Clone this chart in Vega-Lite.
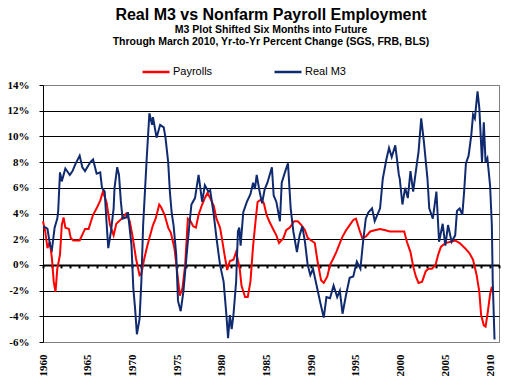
{
  "$schema": "https://vega.github.io/schema/vega-lite/v6.json",
  "width": 456,
  "height": 257,
  "autosize": {"type": "none"},
  "padding": {"left": 43, "top": 85, "right": 10, "bottom": 46},
  "background": "white",
  "config": {
    "view": {"stroke": "#808080", "strokeWidth": 1},
    "font": "Liberation Sans",
    "axis": {"labelOverlap": false},
    "axisY": {
      "title": null, "values": [-6,-4,-2,0,2,4,6,8,10,12,14],
      "labelExpr": "datum.value + '%'", "labelOverlap": false,
      "labelFont": "Liberation Serif", "labelFontSize": 11, "labelFontWeight": "bold", "labelColor": "black",
      "labelPadding": 10, "tickSize": 4, "tickColor": "black", "domainColor": "black",
      "grid": true, "gridOpacity": 1, "gridWidth": 1
    }
  },
  "title": {
    "text": "Real M3 vs Nonfarm Payroll Employment",
    "subtitle": ["M3 Plot Shifted Six Months into Future", "Through March 2010,  Yr-to-Yr  Percent Change (SGS, FRB, BLS)"],
    "anchor": "middle",
    "frame": "group",
    "font": "Liberation Sans",
    "fontSize": 16,
    "fontWeight": "bold",
    "color": "black",
    "subtitleFont": "Liberation Sans",
    "subtitleFontSize": 10.5,
    "subtitleFontWeight": "bold",
    "subtitleColor": "black",
    "subtitlePadding": 2,
    "subtitleLineHeight": 12,
    "offset": 10
  },
  "data": {"values": [
    {"s":"Payrolls","t":1960.0,"v":3.4},{"s":"Payrolls","t":1960.25,"v":2.6},{"s":"Payrolls","t":1960.5,"v":1.3},{"s":"Payrolls","t":1960.75,"v":1.8},{"s":"Payrolls","t":1961.0,"v":0.5},{"s":"Payrolls","t":1961.2,"v":-1.3},{"s":"Payrolls","t":1961.4,"v":-2.1},{"s":"Payrolls","t":1961.6,"v":-0.3},{"s":"Payrolls","t":1961.9,"v":0.8},{"s":"Payrolls","t":1962.1,"v":3.1},{"s":"Payrolls","t":1962.3,"v":3.7},{"s":"Payrolls","t":1962.5,"v":2.9},{"s":"Payrolls","t":1962.9,"v":2.8},{"s":"Payrolls","t":1963.1,"v":2.1},{"s":"Payrolls","t":1963.4,"v":1.9},{"s":"Payrolls","t":1964.1,"v":1.9},{"s":"Payrolls","t":1964.7,"v":2.8},{"s":"Payrolls","t":1965.1,"v":2.8},{"s":"Payrolls","t":1965.6,"v":3.9},{"s":"Payrolls","t":1966.0,"v":4.4},{"s":"Payrolls","t":1966.4,"v":5.0},{"s":"Payrolls","t":1966.7,"v":5.7},{"s":"Payrolls","t":1967.1,"v":4.9},{"s":"Payrolls","t":1967.5,"v":3.1},{"s":"Payrolls","t":1967.9,"v":2.3},{"s":"Payrolls","t":1968.2,"v":3.2},{"s":"Payrolls","t":1968.8,"v":3.6},{"s":"Payrolls","t":1969.3,"v":4.0},{"s":"Payrolls","t":1969.7,"v":3.4},{"s":"Payrolls","t":1970.0,"v":2.3},{"s":"Payrolls","t":1970.4,"v":0.5},{"s":"Payrolls","t":1970.8,"v":-0.8},{"s":"Payrolls","t":1971.0,"v":-0.7},{"s":"Payrolls","t":1971.3,"v":0.4},{"s":"Payrolls","t":1971.6,"v":1.3},{"s":"Payrolls","t":1971.9,"v":2.1},{"s":"Payrolls","t":1972.3,"v":3.1},{"s":"Payrolls","t":1972.6,"v":3.6},{"s":"Payrolls","t":1973.0,"v":4.7},{"s":"Payrolls","t":1973.2,"v":4.5},{"s":"Payrolls","t":1973.6,"v":3.9},{"s":"Payrolls","t":1974.0,"v":2.9},{"s":"Payrolls","t":1974.3,"v":2.5},{"s":"Payrolls","t":1974.7,"v":1.3},{"s":"Payrolls","t":1975.1,"v":-1.1},{"s":"Payrolls","t":1975.3,"v":-2.4},{"s":"Payrolls","t":1975.6,"v":-1.8},{"s":"Payrolls","t":1975.9,"v":0.0},{"s":"Payrolls","t":1976.2,"v":3.6},{"s":"Payrolls","t":1976.5,"v":3.4},{"s":"Payrolls","t":1976.8,"v":3.0},{"s":"Payrolls","t":1977.1,"v":2.9},{"s":"Payrolls","t":1977.4,"v":3.9},{"s":"Payrolls","t":1977.8,"v":4.7},{"s":"Payrolls","t":1978.1,"v":5.2},{"s":"Payrolls","t":1978.4,"v":5.6},{"s":"Payrolls","t":1978.7,"v":5.2},{"s":"Payrolls","t":1979.1,"v":4.6},{"s":"Payrolls","t":1979.4,"v":3.6},{"s":"Payrolls","t":1979.8,"v":2.9},{"s":"Payrolls","t":1980.0,"v":2.1},{"s":"Payrolls","t":1980.3,"v":0.8},{"s":"Payrolls","t":1980.6,"v":-0.4},{"s":"Payrolls","t":1980.9,"v":0.3},{"s":"Payrolls","t":1981.3,"v":0.4},{"s":"Payrolls","t":1981.6,"v":1.0},{"s":"Payrolls","t":1982.0,"v":-0.3},{"s":"Payrolls","t":1982.2,"v":-1.6},{"s":"Payrolls","t":1982.6,"v":-2.5},{"s":"Payrolls","t":1982.9,"v":-2.5},{"s":"Payrolls","t":1983.2,"v":-1.3},{"s":"Payrolls","t":1983.5,"v":1.5},{"s":"Payrolls","t":1983.8,"v":3.6},{"s":"Payrolls","t":1984.0,"v":4.9},{"s":"Payrolls","t":1984.4,"v":5.1},{"s":"Payrolls","t":1984.7,"v":4.8},{"s":"Payrolls","t":1985.0,"v":3.9},{"s":"Payrolls","t":1985.3,"v":3.4},{"s":"Payrolls","t":1985.8,"v":2.7},{"s":"Payrolls","t":1986.1,"v":2.3},{"s":"Payrolls","t":1986.4,"v":1.7},{"s":"Payrolls","t":1986.9,"v":2.1},{"s":"Payrolls","t":1987.2,"v":2.7},{"s":"Payrolls","t":1987.6,"v":2.9},{"s":"Payrolls","t":1988.1,"v":3.4},{"s":"Payrolls","t":1988.5,"v":3.4},{"s":"Payrolls","t":1988.9,"v":3.1},{"s":"Payrolls","t":1989.3,"v":2.7},{"s":"Payrolls","t":1989.6,"v":2.1},{"s":"Payrolls","t":1990.0,"v":1.9},{"s":"Payrolls","t":1990.4,"v":1.7},{"s":"Payrolls","t":1990.7,"v":0.3},{"s":"Payrolls","t":1991.1,"v":-1.2},{"s":"Payrolls","t":1991.4,"v":-1.4},{"s":"Payrolls","t":1991.8,"v":-0.9},{"s":"Payrolls","t":1992.1,"v":0.0},{"s":"Payrolls","t":1992.4,"v":0.4},{"s":"Payrolls","t":1992.8,"v":1.0},{"s":"Payrolls","t":1993.2,"v":1.7},{"s":"Payrolls","t":1993.5,"v":2.2},{"s":"Payrolls","t":1993.9,"v":2.7},{"s":"Payrolls","t":1994.3,"v":3.1},{"s":"Payrolls","t":1994.7,"v":3.5},{"s":"Payrolls","t":1995.0,"v":3.6},{"s":"Payrolls","t":1995.4,"v":2.7},{"s":"Payrolls","t":1995.7,"v":2.1},{"s":"Payrolls","t":1996.1,"v":2.2},{"s":"Payrolls","t":1996.6,"v":2.6},{"s":"Payrolls","t":1997.1,"v":2.7},{"s":"Payrolls","t":1997.7,"v":2.8},{"s":"Payrolls","t":1998.3,"v":2.7},{"s":"Payrolls","t":1998.8,"v":2.6},{"s":"Payrolls","t":1999.4,"v":2.6},{"s":"Payrolls","t":1999.9,"v":2.6},{"s":"Payrolls","t":2000.4,"v":2.6},{"s":"Payrolls","t":2000.7,"v":1.8},{"s":"Payrolls","t":2001.1,"v":1.0},{"s":"Payrolls","t":2001.4,"v":-0.1},{"s":"Payrolls","t":2001.7,"v":-0.9},{"s":"Payrolls","t":2002.0,"v":-1.4},{"s":"Payrolls","t":2002.4,"v":-1.3},{"s":"Payrolls","t":2002.8,"v":-0.5},{"s":"Payrolls","t":2003.1,"v":-0.3},{"s":"Payrolls","t":2003.5,"v":-0.3},{"s":"Payrolls","t":2003.9,"v":0.0},{"s":"Payrolls","t":2004.2,"v":0.8},{"s":"Payrolls","t":2004.5,"v":1.4},{"s":"Payrolls","t":2005.0,"v":1.7},{"s":"Payrolls","t":2005.6,"v":1.8},{"s":"Payrolls","t":2006.1,"v":1.9},{"s":"Payrolls","t":2006.6,"v":1.7},{"s":"Payrolls","t":2007.2,"v":1.3},{"s":"Payrolls","t":2007.7,"v":0.9},{"s":"Payrolls","t":2008.1,"v":0.4},{"s":"Payrolls","t":2008.5,"v":-0.8},{"s":"Payrolls","t":2008.8,"v":-2.1},{"s":"Payrolls","t":2009.0,"v":-3.9},{"s":"Payrolls","t":2009.3,"v":-4.7},{"s":"Payrolls","t":2009.5,"v":-4.8},{"s":"Payrolls","t":2009.7,"v":-3.9},{"s":"Payrolls","t":2010.0,"v":-2.3},{"s":"Payrolls","t":2010.2,"v":-1.7},
    {"s":"Real M3","t":1960.0,"v":3.0},{"s":"Real M3","t":1960.3,"v":2.9},{"s":"Real M3","t":1960.5,"v":2.8},{"s":"Real M3","t":1960.8,"v":1.5},{"s":"Real M3","t":1961.0,"v":1.2},{"s":"Real M3","t":1961.3,"v":2.9},{"s":"Real M3","t":1961.6,"v":3.6},{"s":"Real M3","t":1961.7,"v":4.2},{"s":"Real M3","t":1961.9,"v":7.2},{"s":"Real M3","t":1962.1,"v":6.5},{"s":"Real M3","t":1962.5,"v":7.5},{"s":"Real M3","t":1963.0,"v":7.0},{"s":"Real M3","t":1963.3,"v":7.3},{"s":"Real M3","t":1963.6,"v":7.8},{"s":"Real M3","t":1964.1,"v":8.5},{"s":"Real M3","t":1964.4,"v":7.6},{"s":"Real M3","t":1964.7,"v":7.3},{"s":"Real M3","t":1965.3,"v":8.0},{"s":"Real M3","t":1965.6,"v":8.2},{"s":"Real M3","t":1966.0,"v":7.1},{"s":"Real M3","t":1966.4,"v":7.2},{"s":"Real M3","t":1966.6,"v":6.0},{"s":"Real M3","t":1966.9,"v":5.7},{"s":"Real M3","t":1967.1,"v":3.4},{"s":"Real M3","t":1967.3,"v":1.3},{"s":"Real M3","t":1967.6,"v":2.6},{"s":"Real M3","t":1967.9,"v":4.4},{"s":"Real M3","t":1968.0,"v":6.0},{"s":"Real M3","t":1968.3,"v":7.6},{"s":"Real M3","t":1968.5,"v":7.0},{"s":"Real M3","t":1968.7,"v":5.0},{"s":"Real M3","t":1968.9,"v":3.6},{"s":"Real M3","t":1969.3,"v":3.7},{"s":"Real M3","t":1969.5,"v":4.1},{"s":"Real M3","t":1969.9,"v":1.5},{"s":"Real M3","t":1970.1,"v":-1.8},{"s":"Real M3","t":1970.3,"v":-3.4},{"s":"Real M3","t":1970.5,"v":-5.4},{"s":"Real M3","t":1970.8,"v":-4.2},{"s":"Real M3","t":1971.0,"v":-1.3},{"s":"Real M3","t":1971.2,"v":3.1},{"s":"Real M3","t":1971.3,"v":4.4},{"s":"Real M3","t":1971.6,"v":8.3},{"s":"Real M3","t":1971.9,"v":11.8},{"s":"Real M3","t":1972.2,"v":10.9},{"s":"Real M3","t":1972.3,"v":11.5},{"s":"Real M3","t":1972.7,"v":9.9},{"s":"Real M3","t":1973.1,"v":10.9},{"s":"Real M3","t":1973.5,"v":10.7},{"s":"Real M3","t":1973.7,"v":9.9},{"s":"Real M3","t":1974.0,"v":8.0},{"s":"Real M3","t":1974.2,"v":5.6},{"s":"Real M3","t":1974.4,"v":4.0},{"s":"Real M3","t":1974.6,"v":3.1},{"s":"Real M3","t":1974.9,"v":0.8},{"s":"Real M3","t":1975.1,"v":-2.8},{"s":"Real M3","t":1975.4,"v":-3.6},{"s":"Real M3","t":1975.7,"v":-2.1},{"s":"Real M3","t":1976.0,"v":0.25},{"s":"Real M3","t":1976.3,"v":2.6},{"s":"Real M3","t":1976.6,"v":4.7},{"s":"Real M3","t":1977.0,"v":5.2},{"s":"Real M3","t":1977.4,"v":7.0},{"s":"Real M3","t":1977.8,"v":4.9},{"s":"Real M3","t":1978.1,"v":6.2},{"s":"Real M3","t":1978.5,"v":5.7},{"s":"Real M3","t":1978.7,"v":5.8},{"s":"Real M3","t":1979.1,"v":3.9},{"s":"Real M3","t":1979.4,"v":2.1},{"s":"Real M3","t":1979.8,"v":0.0},{"s":"Real M3","t":1980.2,"v":-1.3},{"s":"Real M3","t":1980.5,"v":-3.8},{"s":"Real M3","t":1980.7,"v":-5.7},{"s":"Real M3","t":1980.9,"v":-3.9},{"s":"Real M3","t":1981.1,"v":-5.0},{"s":"Real M3","t":1981.3,"v":-3.9},{"s":"Real M3","t":1981.6,"v":-1.3},{"s":"Real M3","t":1981.8,"v":2.6},{"s":"Real M3","t":1981.95,"v":2.9},{"s":"Real M3","t":1982.1,"v":1.5},{"s":"Real M3","t":1982.4,"v":4.1},{"s":"Real M3","t":1982.8,"v":4.9},{"s":"Real M3","t":1983.2,"v":5.5},{"s":"Real M3","t":1983.5,"v":6.4},{"s":"Real M3","t":1983.7,"v":5.9},{"s":"Real M3","t":1983.9,"v":7.0},{"s":"Real M3","t":1984.2,"v":5.8},{"s":"Real M3","t":1984.5,"v":4.8},{"s":"Real M3","t":1984.8,"v":5.9},{"s":"Real M3","t":1985.1,"v":6.4},{"s":"Real M3","t":1985.6,"v":7.6},{"s":"Real M3","t":1985.8,"v":5.4},{"s":"Real M3","t":1986.1,"v":4.9},{"s":"Real M3","t":1986.5,"v":3.4},{"s":"Real M3","t":1986.7,"v":6.4},{"s":"Real M3","t":1987.1,"v":7.3},{"s":"Real M3","t":1987.4,"v":7.9},{"s":"Real M3","t":1987.7,"v":4.4},{"s":"Real M3","t":1988.0,"v":2.6},{"s":"Real M3","t":1988.4,"v":1.0},{"s":"Real M3","t":1988.7,"v":2.3},{"s":"Real M3","t":1989.0,"v":3.0},{"s":"Real M3","t":1989.3,"v":1.8},{"s":"Real M3","t":1989.6,"v":0.0},{"s":"Real M3","t":1989.9,"v":-0.8},{"s":"Real M3","t":1990.2,"v":-0.3},{"s":"Real M3","t":1990.6,"v":-1.6},{"s":"Real M3","t":1991.0,"v":-2.9},{"s":"Real M3","t":1991.4,"v":-4.1},{"s":"Real M3","t":1991.7,"v":-2.5},{"s":"Real M3","t":1992.1,"v":-2.6},{"s":"Real M3","t":1992.5,"v":-1.6},{"s":"Real M3","t":1992.9,"v":-2.5},{"s":"Real M3","t":1993.2,"v":-2.0},{"s":"Real M3","t":1993.5,"v":-3.8},{"s":"Real M3","t":1993.9,"v":-2.3},{"s":"Real M3","t":1994.3,"v":-1.0},{"s":"Real M3","t":1994.7,"v":-0.9},{"s":"Real M3","t":1995.1,"v":0.25},{"s":"Real M3","t":1995.5,"v":-0.3},{"s":"Real M3","t":1995.8,"v":1.8},{"s":"Real M3","t":1996.1,"v":3.6},{"s":"Real M3","t":1996.4,"v":4.1},{"s":"Real M3","t":1996.8,"v":4.4},{"s":"Real M3","t":1997.1,"v":3.4},{"s":"Real M3","t":1997.7,"v":4.4},{"s":"Real M3","t":1998.0,"v":6.7},{"s":"Real M3","t":1998.4,"v":8.2},{"s":"Real M3","t":1998.7,"v":9.1},{"s":"Real M3","t":1999.0,"v":8.4},{"s":"Real M3","t":1999.4,"v":9.3},{"s":"Real M3","t":1999.8,"v":7.0},{"s":"Real M3","t":1999.9,"v":6.7},{"s":"Real M3","t":2000.2,"v":4.7},{"s":"Real M3","t":2000.5,"v":6.0},{"s":"Real M3","t":2000.8,"v":5.2},{"s":"Real M3","t":2001.1,"v":7.3},{"s":"Real M3","t":2001.4,"v":5.7},{"s":"Real M3","t":2001.8,"v":7.8},{"s":"Real M3","t":2002.0,"v":8.8},{"s":"Real M3","t":2002.3,"v":11.4},{"s":"Real M3","t":2002.6,"v":9.6},{"s":"Real M3","t":2003.0,"v":6.7},{"s":"Real M3","t":2003.2,"v":4.4},{"s":"Real M3","t":2003.6,"v":3.6},{"s":"Real M3","t":2004.0,"v":5.7},{"s":"Real M3","t":2004.3,"v":1.8},{"s":"Real M3","t":2004.7,"v":3.2},{"s":"Real M3","t":2005.0,"v":1.5},{"s":"Real M3","t":2005.3,"v":3.1},{"s":"Real M3","t":2005.7,"v":1.8},{"s":"Real M3","t":2006.1,"v":2.3},{"s":"Real M3","t":2006.3,"v":4.2},{"s":"Real M3","t":2006.6,"v":4.4},{"s":"Real M3","t":2006.9,"v":3.9},{"s":"Real M3","t":2007.1,"v":5.7},{"s":"Real M3","t":2007.3,"v":7.9},{"s":"Real M3","t":2007.6,"v":8.5},{"s":"Real M3","t":2007.9,"v":10.1},{"s":"Real M3","t":2008.1,"v":11.7},{"s":"Real M3","t":2008.3,"v":11.4},{"s":"Real M3","t":2008.6,"v":13.5},{"s":"Real M3","t":2008.8,"v":12.2},{"s":"Real M3","t":2009.1,"v":8.0},{"s":"Real M3","t":2009.3,"v":11.1},{"s":"Real M3","t":2009.5,"v":8.0},{"s":"Real M3","t":2009.7,"v":8.3},{"s":"Real M3","t":2010.0,"v":6.2},{"s":"Real M3","t":2010.2,"v":3.1},{"s":"Real M3","t":2010.3,"v":-1.3},{"s":"Real M3","t":2010.5,"v":-5.8}
  ]},
  "layer": [
    {
      "transform": [{"filter": "datum.s == 'Payrolls'"}],
      "mark": {"type": "line", "strokeWidth": 2},
      "encoding": {
        "x": {
          "field": "t", "type": "quantitative",
          "scale": {"domain": [1960, 2011], "nice": false, "zero": false},
          "axis": {
            "orient": "bottom",
            "title": null, "values": [1960,1965,1970,1975,1980,1985,1990,1995,2000,2005,2010],
            "format": "d", "labelAngle": -90, "labelPadding": 12, "ticks": false, "domain": false, "grid": false,
            "labelOverlap": false,
            "labelFont": "Liberation Serif", "labelFontSize": 11, "labelFontWeight": "bold", "labelColor": "black"
          }
        },
        "y": {
          "field": "v", "type": "quantitative",
          "scale": {"domain": [-6, 14], "nice": false, "zero": false},
          "axis": {
            "gridColor": {"condition": {"test": "datum.value == 14 || datum.value == -6", "value": "#808080"}, "value": "#000000"}
          }
        },
        "color": {
          "field": "s", "type": "nominal",
          "scale": {"domain": ["Payrolls", "Real M3"], "range": ["#FF0000", "#0F2A6E"]},
          "legend": {
            "title": null, "orient": "none", "legendX": 98, "legendY": -28, "direction": "horizontal",
            "symbolType": "stroke", "symbolSize": 729, "symbolStrokeWidth": 2.5, "labelOffset": 2,
            "labelFont": "Liberation Sans", "labelFontSize": 11, "labelColor": "black", "columnPadding": 56
          }
        }
      }
    },
    {
      "transform": [{"filter": "datum.s == 'Real M3'"}],
      "mark": {"type": "line", "strokeWidth": 2},
      "encoding": {
        "x": {
          "field": "t", "type": "quantitative",
          "scale": {"domain": [1960, 2011], "nice": false, "zero": false},
          "axis": {
            "orient": "bottom",
            "title": null, "values": [1960,1961,1962,1963,1964,1965,1966,1967,1968,1969,1970,1971,1972,1973,1974,1975,1976,1977,1978,1979,1980,1981,1982,1983,1984,1985,1986,1987,1988,1989,1990,1991,1992,1993,1994,1995,1996,1997,1998,1999,2000,2001,2002,2003,2004,2005,2006,2007,2008,2009,2010,2011],
            "labels": false, "grid": false, "offset": -77.1,
            "domain": true, "domainColor": "black", "domainWidth": 2,
            "ticks": true, "tickColor": "black", "tickSize": 3, "tickWidth": 2
          }
        },
        "y": {
          "field": "v", "type": "quantitative",
          "scale": {"domain": [-6, 14], "nice": false, "zero": false},
          "axis": {
            "gridColor": {"condition": {"test": "datum.value == 14 || datum.value == -6", "value": "#808080"}, "value": "#000000"}
          }
        },
        "color": {"field": "s", "type": "nominal"}
      }
    }
  ],
  "resolve": {"axis": {"x": "independent"}}
}
